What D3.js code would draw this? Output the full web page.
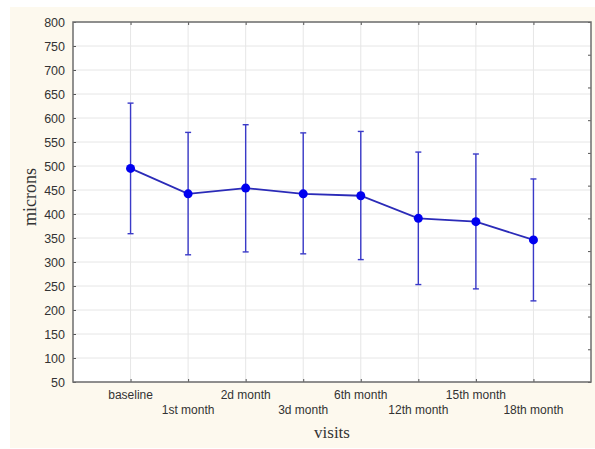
<!DOCTYPE html>
<html>
<head>
<meta charset="utf-8">
<script src="https://cdn.jsdelivr.net/npm/d3@7"></script>
<style>
  body { margin: 0; background: #fff; }
</style>
</head>
<body>
<div id="chart"></div>
<script>
// visits and measured values (microns)
var visits = ["baseline", "1st month", "2d month", "3d month", "6th month", "12th month", "15th month", "18th month"];
var means = [495, 442, 454, 442, 438, 391, 384, 346];
var upper = [631, 570, 586, 569, 572, 529, 525, 473];
var lower = [359, 315, 321, 317, 305, 253, 244, 219];
var yTicks = [50, 100, 150, 200, 250, 300, 350, 400, 450, 500, 550, 600, 650, 700, 750, 800];

var svgWidth = 595;
var svgHeight = 449;

var margin = { top: 22, right: 4, bottom: 67, left: 73 };
var width = svgWidth - margin.left - margin.right;
var height = svgHeight - margin.top - margin.bottom;

var svg = d3.select("#chart")
  .append("svg")
  .attr("width", svgWidth)
  .attr("height", svgHeight);

// cream panel
svg.append("rect")
  .attr("x", 10).attr("y", 7)
  .attr("width", 585).attr("height", 441)
  .attr("fill", "#fdf9ee");

var chartGroup = svg.append("g")
  .attr("transform", `translate(${margin.left}, ${margin.top})`);

chartGroup.append("rect")
  .attr("width", width).attr("height", height)
  .attr("fill", "#fff");

var data = visits.map((v, i) => ({ visit: v, mean: means[i], hi: upper[i], lo: lower[i] }));

var xScale = d3.scalePoint()
  .domain(visits)
  .range([0, width])
  .padding(1);

var yScale = d3.scaleLinear()
  .domain([50, 800])
  .range([height, 0]);

// grid
chartGroup.append("g")
  .selectAll("line")
  .data(yTicks)
  .enter()
  .append("line")
  .attr("x1", 0).attr("x2", width)
  .attr("y1", d => yScale(d)).attr("y2", d => yScale(d))
  .attr("stroke", "#e6e6e6");

chartGroup.append("g")
  .selectAll("line")
  .data(visits)
  .enter()
  .append("line")
  .attr("x1", d => xScale(d)).attr("x2", d => xScale(d))
  .attr("y1", 0).attr("y2", height)
  .attr("stroke", "#e6e6e6");

// axes
var leftAxis = d3.axisLeft(yScale).tickValues(yTicks).tickSizeInner(-3).tickSizeOuter(0).tickPadding(8);
var bottomAxis = d3.axisBottom(xScale).tickSizeInner(-3).tickSizeOuter(0).tickFormat("");
var topAxis = d3.axisTop(xScale).tickSizeInner(-3).tickSizeOuter(0).tickFormat("");
var rightScale = d3.scaleLinear().domain([0, 11]).range([height, 0]);
var rightAxis = d3.axisRight(rightScale).ticks(11).tickSizeInner(-3).tickSizeOuter(0).tickFormat("");

var yAxisG = chartGroup.append("g").call(leftAxis);
yAxisG.selectAll("text")
  .style("font-family", "Arial, 'Liberation Sans', sans-serif")
  .style("font-size", "12.5px")
  .attr("fill", "#333");

var xAxisG = chartGroup.append("g")
  .attr("transform", `translate(0, ${height})`)
  .call(bottomAxis);

chartGroup.append("g").call(topAxis);
chartGroup.append("g").attr("transform", `translate(${width}, 0)`).call(rightAxis);

chartGroup.selectAll(".tick line").attr("stroke", "#555");
chartGroup.selectAll(".domain").remove();

// frame
chartGroup.append("rect")
  .attr("width", width).attr("height", height)
  .attr("fill", "none")
  .attr("stroke", "#6e6e6e")
  .attr("stroke-width", 1.5);

// x labels, staggered in two rows
chartGroup.selectAll(".xlab")
  .data(visits)
  .enter()
  .append("text")
  .attr("class", "xlab")
  .attr("x", d => xScale(d))
  .attr("y", (d, i) => height + (i % 2 ? 32 : 17))
  .attr("text-anchor", "middle")
  .style("font-family", "Arial, 'Liberation Sans', sans-serif")
  .style("font-size", "12px")
  .attr("fill", "#333")
  .text(d => d);

// error bars
var bars = chartGroup.append("g")
  .selectAll("g")
  .data(data)
  .enter()
  .append("g")
  .attr("stroke", "#3a3ac8")
  .attr("stroke-width", 1.4);

bars.append("line")
  .attr("x1", d => xScale(d.visit)).attr("x2", d => xScale(d.visit))
  .attr("y1", d => yScale(d.hi)).attr("y2", d => yScale(d.lo));
bars.append("line")
  .attr("x1", d => xScale(d.visit) - 3).attr("x2", d => xScale(d.visit) + 3)
  .attr("y1", d => yScale(d.hi)).attr("y2", d => yScale(d.hi));
bars.append("line")
  .attr("x1", d => xScale(d.visit) - 3).attr("x2", d => xScale(d.visit) + 3)
  .attr("y1", d => yScale(d.lo)).attr("y2", d => yScale(d.lo));

// mean line
var line = d3.line()
  .x(d => xScale(d.visit))
  .y(d => yScale(d.mean));

chartGroup.append("path")
  .datum(data)
  .attr("d", line)
  .attr("fill", "none")
  .attr("stroke", "#2b2bb8")
  .attr("stroke-width", 1.8);

chartGroup.selectAll("circle")
  .data(data)
  .enter()
  .append("circle")
  .attr("cx", d => xScale(d.visit))
  .attr("cy", d => yScale(d.mean))
  .attr("r", 4.5)
  .attr("fill", "#0000f0");

// axis titles
chartGroup.append("text")
  .attr("transform", "rotate(-90)")
  .attr("x", -height / 2 + 5)
  .attr("y", -margin.left + 36)
  .attr("text-anchor", "middle")
  .style("font-family", "'Times New Roman', 'Liberation Serif', serif")
  .style("font-size", "18px")
  .attr("fill", "#333")
  .text("microns");

chartGroup.append("text")
  .attr("x", width / 2)
  .attr("y", height + 56)
  .attr("text-anchor", "middle")
  .style("font-family", "'Times New Roman', 'Liberation Serif', serif")
  .style("font-size", "17px")
  .attr("fill", "#333")
  .text("visits");
</script>
</body>
</html>
